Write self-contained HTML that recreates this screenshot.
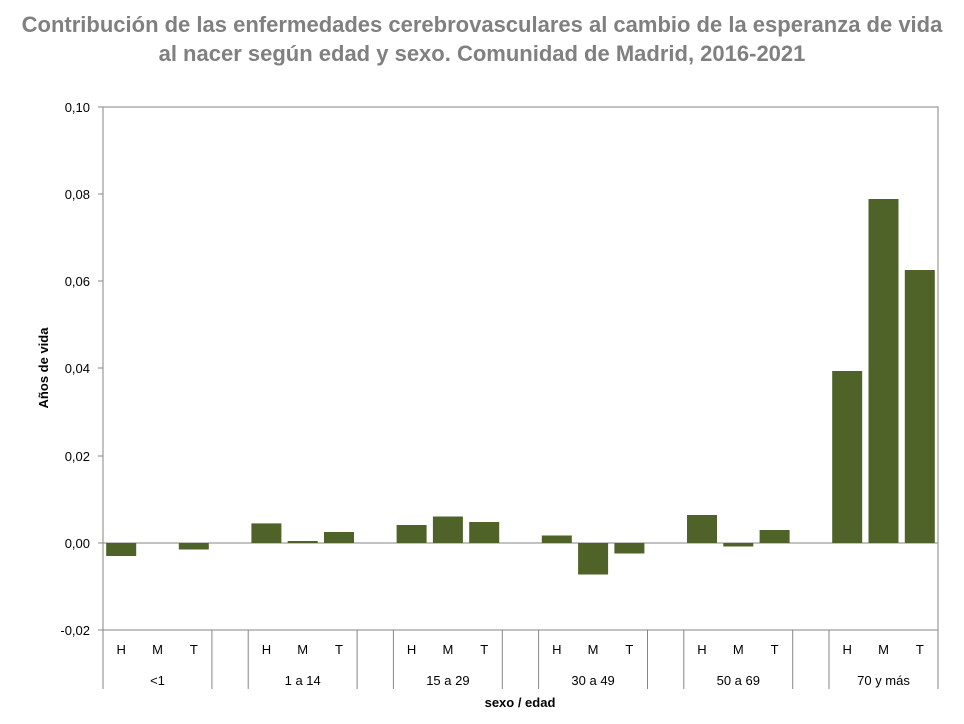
<!DOCTYPE html>
<html><head><meta charset="utf-8"><style>
body{margin:0;background:#fff;}
svg{display:block;font-family:"Liberation Sans",sans-serif;}
</style></head><body>
<svg width="964" height="724" viewBox="0 0 964 724">
<text x="482" y="32" text-anchor="middle" font-size="22" font-weight="bold" fill="#808080">Contribución de las enfermedades cerebrovasculares al cambio de la esperanza de vida</text>
<text x="482" y="61" text-anchor="middle" font-size="22" font-weight="bold" fill="#808080">al nacer según edad y sexo. Comunidad de Madrid, 2016-2021</text>
<rect x="103" y="107" width="835" height="523" fill="none" stroke="#868686" stroke-width="1"/>
<g stroke="#868686" stroke-width="1">
<line x1="98" y1="107" x2="103" y2="107"/><line x1="98" y1="194" x2="103" y2="194"/><line x1="98" y1="281" x2="103" y2="281"/><line x1="98" y1="368" x2="103" y2="368"/><line x1="98" y1="456" x2="103" y2="456"/><line x1="98" y1="543" x2="103" y2="543"/><line x1="98" y1="630" x2="103" y2="630"/>
<line x1="103" y1="543" x2="938" y2="543"/>
<line x1="103" y1="630" x2="103" y2="689"/><line x1="211.9" y1="630" x2="211.9" y2="689"/><line x1="248.2" y1="630" x2="248.2" y2="689"/><line x1="357.1" y1="630" x2="357.1" y2="689"/><line x1="393.4" y1="630" x2="393.4" y2="689"/><line x1="502.3" y1="630" x2="502.3" y2="689"/><line x1="538.6" y1="630" x2="538.6" y2="689"/><line x1="647.5" y1="630" x2="647.5" y2="689"/><line x1="683.8" y1="630" x2="683.8" y2="689"/><line x1="792.7" y1="630" x2="792.7" y2="689"/><line x1="829" y1="630" x2="829" y2="689"/><line x1="938" y1="630" x2="938" y2="689"/>
</g>
<g font-size="13" fill="#000" text-anchor="end">
<text x="90" y="112">0,10</text><text x="90" y="199">0,08</text><text x="90" y="286">0,06</text><text x="90" y="373">0,04</text><text x="90" y="461">0,02</text><text x="90" y="548">0,00</text><text x="90" y="635">-0,02</text>
</g>
<text transform="translate(48,368) rotate(-90)" text-anchor="middle" font-size="13" font-weight="bold">Años de vida</text>
<g fill="#4f6228">
<rect x="106.2" y="543" width="30" height="13"/>
<rect x="178.8" y="543" width="30" height="6.5"/>
<rect x="251.4" y="523.4" width="30" height="19.6"/>
<rect x="287.7" y="541" width="30" height="2"/>
<rect x="324" y="532" width="30" height="11"/>
<rect x="396.6" y="525" width="30" height="18"/>
<rect x="432.9" y="516.5" width="30" height="26.5"/>
<rect x="469.2" y="522" width="30" height="21"/>
<rect x="541.8" y="535.5" width="30" height="7.5"/>
<rect x="578.1" y="543" width="30" height="31.5"/>
<rect x="614.4" y="543" width="30" height="10.5"/>
<rect x="687" y="515" width="30" height="28"/>
<rect x="723.3" y="543" width="30" height="3.5"/>
<rect x="759.6" y="530" width="30" height="13"/>
<rect x="832.2" y="371" width="30" height="172"/>
<rect x="868.5" y="199" width="30" height="344"/>
<rect x="904.8" y="270" width="30" height="273"/>
</g>
<g font-size="13" text-anchor="middle">
<text x="121.2" y="654">H</text><text x="157.5" y="654">M</text><text x="193.8" y="654">T</text>
<text x="266.4" y="654">H</text><text x="302.7" y="654">M</text><text x="339" y="654">T</text>
<text x="411.6" y="654">H</text><text x="447.9" y="654">M</text><text x="484.2" y="654">T</text>
<text x="556.8" y="654">H</text><text x="593.1" y="654">M</text><text x="629.4" y="654">T</text>
<text x="702" y="654">H</text><text x="738.3" y="654">M</text><text x="774.6" y="654">T</text>
<text x="847.2" y="654">H</text><text x="883.5" y="654">M</text><text x="919.8" y="654">T</text>
<text x="157.5" y="685">&lt;1</text><text x="302.7" y="685">1 a 14</text><text x="447.9" y="685">15 a 29</text><text x="593.1" y="685">30 a 49</text><text x="738.3" y="685">50 a 69</text><text x="883.5" y="685">70 y más</text>
<text x="520" y="707" font-weight="bold">sexo / edad</text>
</g>
</svg>
</body></html>
